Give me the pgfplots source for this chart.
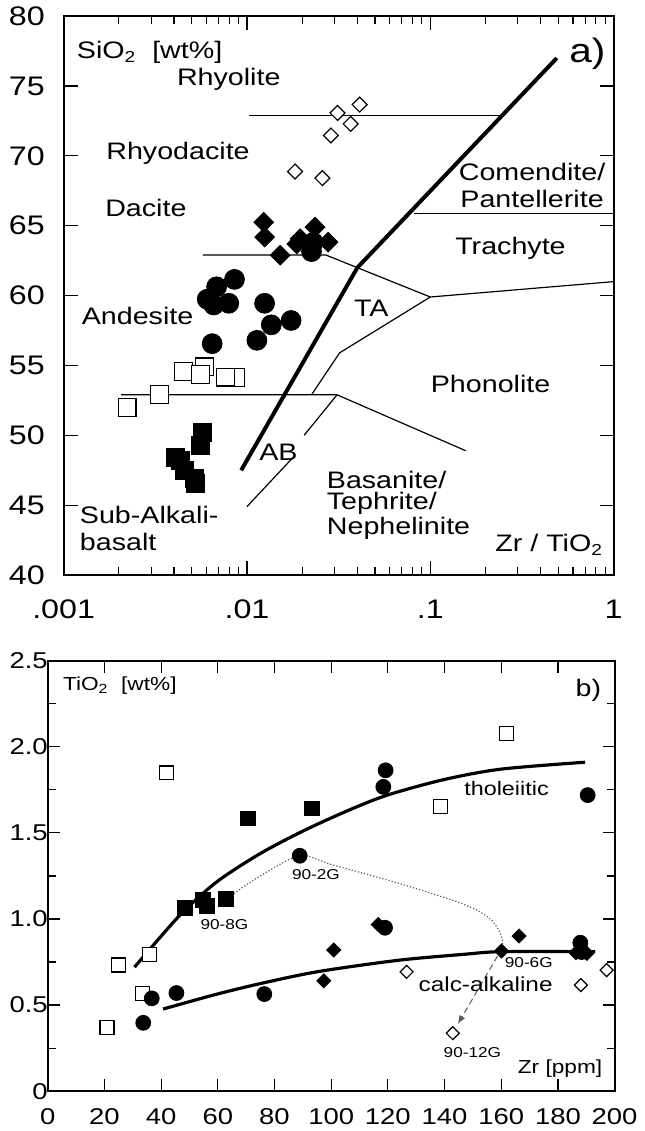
\documentclass[border=0pt]{standalone}
\usepackage{fontspec}
\setmainfont{Liberation Sans}[FakeStretch=1.2]
\usepackage{pgfplots}
\pgfplotsset{compat=1.18}

\begin{document}
\begin{tikzpicture}
\begin{scope}[x=0.5pt,y=-0.5pt]
\useasboundingbox (0,0) rectangle (634,1131);
\end{scope}

% ---------- panel a) : SiO2 vs Zr/TiO2 ----------
\begin{axis}[
  at={(32pt,-288.5pt)}, anchor=south west, scale only axis,
  width=276.5pt, height=281pt,
  xmode=log, xmin=0.001, xmax=1, ymin=40, ymax=80,
  xtick={0.001,0.01,0.1,1}, xticklabels={.001,.01,.1,1},
  minor xtick={0.002,0.003,0.004,0.005,0.006,0.007,0.008,0.009,
               0.02,0.03,0.04,0.05,0.06,0.07,0.08,0.09,
               0.2,0.3,0.4,0.5,0.6,0.7,0.8,0.9},
  ytick={40,45,...,80},
  axis line style={line width=1pt},
  tick style={black, line width=0.6pt},
  major tick length=7pt, minor tick length=4pt,
  tick label style={font=\fontsize{13.5}{15}\selectfont},
  /pgf/number format/assume math mode=true,
  xticklabel style={yshift=-9pt},
  yticklabel style={xshift=-6pt},
  clip=false,
]
% field boundaries
\addplot[black, line width=2pt] coordinates {(0.0093,47.5) (0.04,62) (0.49,77)};
\addplot[black, line width=0.6pt] coordinates {(0.0102,72.9) (0.245,72.9)};
\addplot[black, line width=0.6pt] coordinates {(0.082,65.9) (1,65.9)};
\addplot[black, line width=0.6pt] coordinates {(0.00575,62.9) (0.027,62.9) (0.1,59.9) (1,61.0)};
\addplot[black, line width=0.6pt] coordinates {(0.1,59.9) (0.032,55.9) (0.0225,52.9)};
\addplot[black, line width=0.6pt] coordinates {(0.00206,52.9) (0.031,52.9) (0.156,48.9)};
\addplot[black, line width=0.6pt] coordinates {(0.031,52.9) (0.0205,50.0)};
\addplot[black, line width=0.6pt] coordinates {(0.0175,48.3) (0.01,44.9)};

% open diamonds
\addplot[only marks, mark=square*, mark size=2.65pt,
  mark options={rotate=45, fill=white, draw=black, line width=0.6pt}]
  coordinates {(0.0312,73.07) (0.0412,73.67) (0.0368,72.29) (0.0287,71.46)
               (0.0183,68.88) (0.0258,68.41)};
% filled circles
\addplot[only marks, mark=*, mark size=5pt, black]
  coordinates {(0.00855,61.16) (0.00683,60.63) (0.00607,59.74) (0.00659,59.33)
               (0.00796,59.45) (0.01248,59.45) (0.01357,57.91) (0.01741,58.22)
               (0.01133,56.8) (0.00646,56.56) (0.0225,63.15) (0.023,63.8)};
% filled diamonds
\addplot[only marks, mark=square*, mark size=3.5pt, black, mark options={rotate=45}]
  coordinates {(0.01234,65.25) (0.01249,64.19) (0.01517,62.89) (0.0195,64.07)
               (0.0235,64.9) (0.0277,63.83) (0.0187,63.7)};
% open squares
\addplot[only marks, mark=square*, mark size=4.5pt,
  mark options={fill=white, draw=black, line width=0.6pt}]
  coordinates {(0.00222,51.99) (0.00332,52.94) (0.0045,54.59) (0.00589,54.9)
               (0.00558,54.36) (0.00865,54.12) (0.00763,54.17)};
% filled squares
\addplot[only marks, mark=square*, mark size=4.5pt, black]
  coordinates {(0.0057,50.21) (0.0056,49.26) (0.00409,48.44) (0.00435,48.2)
               (0.00454,47.48) (0.00514,46.9) (0.00525,46.54)};
\end{axis}

% ---------- panel b) : TiO2 vs Zr ----------
\begin{axis}[
  at={(24pt,-548pt)}, anchor=south west, scale only axis,
  width=285pt, height=216.5pt,
  xmin=0, xmax=200, ymin=0, ymax=2.5,
  xtick={0,20,...,200},
  ytick={0,0.5,1,1.5,2,2.5}, yticklabels={0,0.5,1.0,1.5,2.0,2.5},
  minor ytick={0.25,0.75,1.25,1.75,2.25},
  axis line style={line width=1pt},
  tick style={black, line width=0.6pt},
  major tick length=6pt, minor tick length=4pt,
  tick label style={font=\fontsize{11.5}{13}\selectfont},
  /pgf/number format/assume math mode=true,
  xticklabel style={yshift=-5pt},
  yticklabel style={xshift=3.5pt},
  clip=false,
]
% trend curves
\addplot[black, line width=1.6pt, smooth] coordinates {
  (30.6,0.72) (40,0.90) (48.3,1.05) (60,1.22) (75,1.38) (90,1.51)
  (106,1.63) (120,1.72) (140,1.81) (160,1.87) (189.6,1.91)};
\addplot[black, line width=1.6pt, smooth] coordinates {
  (40.7,0.477) (60,0.565) (76.4,0.63) (95.6,0.695) (123.6,0.76)
  (147,0.795) (160,0.81) (193.1,0.81)};
\addplot[black!65, line width=0.6pt, densely dotted, smooth] coordinates {
  (62.9,1.116) (75,1.25) (88.9,1.367) (100.3,1.315) (123.6,1.208)
  (147,1.084) (156.3,0.997) (160.1,0.901) (160.5,0.82)};
\draw[black!65, line width=0.5pt, densely dashed, -latex] (axis cs:158.7,0.785) -- (axis cs:144.7,0.39);

% open squares
\addplot[only marks, mark=square*, mark size=3.5pt,
  mark options={fill=white, draw=black, line width=0.6pt}]
  coordinates {(20.9,0.371) (25.0,0.733) (33.5,0.568) (35.8,0.795)
               (41.9,1.848) (161.9,2.075) (138.6,1.651)};
% filled squares
\addplot[only marks, mark=square*, mark size=3.75pt, black]
  coordinates {(70.5,1.584) (93.3,1.642) (48.3,1.064) (54.8,1.113)
               (56.1,1.074) (62.9,1.116)};
% filled circles
\addplot[only marks, mark=*, mark size=3.75pt, black]
  coordinates {(33.7,0.397) (36.7,0.539) (45.4,0.570) (76.4,0.564)
               (88.9,1.367) (119.2,1.863) (118.4,1.767) (190.5,1.719)
               (119,0.949) (187.9,0.862) (188.4,0.808)};
% filled diamonds
\addplot[only marks, mark=square*, mark size=2.5pt, black, mark options={rotate=45}]
  coordinates {(100.9,0.820) (97.4,0.641) (116.6,0.968) (160.1,0.814)
               (166.3,0.901) (186.4,0.804) (190.2,0.80)};
% open diamonds
\addplot[only marks, mark=square*, mark size=2.3pt,
  mark options={rotate=45, fill=white, draw=black, line width=0.6pt}]
  coordinates {(126.6,0.693) (142.9,0.337) (188.1,0.616) (197.2,0.703)};
\end{axis}

% ---------- labels ----------
\begin{scope}[x=0.5pt,y=-0.5pt, every node/.style={inner sep=0pt}]
\begingroup
\fontsize{12}{14}\selectfont
\node[anchor=west] at (77,51.7) {SiO\textsubscript{2}\ \ [wt\%]};
\node at (230,78.3) {Rhyolite};
\node at (179,153.3) {Rhyodacite};
\node at (146.7,208.3) {Dacite};
\node at (535,171.7) {Comendite/};
\node at (535,199) {Pantellerite};
\node at (513.3,248.3) {Trachyte};
\node at (373.3,308.3) {TA};
\node at (138.3,316.7) {Andesite};
\node at (493.3,385) {Phonolite};
\node at (280,453.3) {AB};
\node[anchor=west] at (328.3,481) {Basanite/};
\node[anchor=west] at (328.3,505) {Tephrite/};
\node[anchor=west] at (328.3,530) {Nephelinite};
\node[anchor=west] at (80,516.7) {Sub-Alkali-};
\node[anchor=west] at (80,543.3) {basalt};
\node[anchor=east] at (606.7,546.7) {Zr / TiO\textsubscript{2}};
\endgroup
\node[font=\fontsize{17}{19}\selectfont] at (590.7,53.3) {a)};

\node[anchor=west, font=\fontsize{9.5}{11}\selectfont] at (63,688) {TiO\textsubscript{2}\ \ [wt\%]};
\node[font=\fontsize{12}{14}\selectfont] at (591.7,693) {b)};
\node[font=\fontsize{9.8}{11}\selectfont] at (509.3,791.7) {tholeiitic};
\node[font=\fontsize{7.2}{8}\selectfont] at (317.7,878.3) {90-2G};
\node[font=\fontsize{7.2}{8}\selectfont] at (225.7,928.3) {90-8G};
\node[font=\fontsize{7.2}{8}\selectfont] at (531.7,966.7) {90-6G};
\node[font=\fontsize{10.2}{12}\selectfont] at (488.3,988.3) {calc-alkaline};
\node[font=\fontsize{7.2}{8}\selectfont] at (475,1056.7) {90-12G};
\node[anchor=east, font=\fontsize{9.5}{11}\selectfont] at (606,1073.3) {Zr [ppm]};
\end{scope}
\end{tikzpicture}
\end{document}
